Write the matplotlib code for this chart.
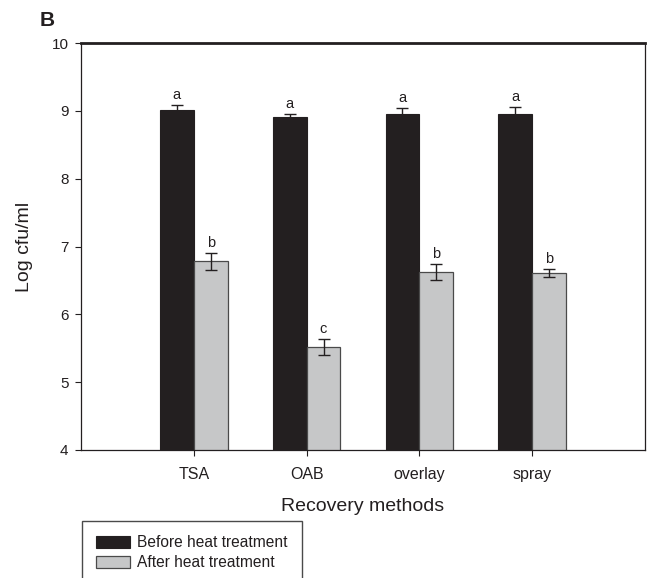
import numpy as np
import matplotlib
matplotlib.use("Agg")
import matplotlib.pyplot as plt

# Log cfu/ml per recovery method, before and after heat treatment
methods = ['TSA', 'OAB', 'overlay', 'spray']
before = [9.02, 8.91, 8.96, 8.96]
before_err = [0.07, 0.04, 0.08, 0.10]
after = [6.78, 5.52, 6.62, 6.61]
after_err = [0.13, 0.12, 0.12, 0.065]
before_letters = ['a', 'a', 'a', 'a']
after_letters = ['b', 'c', 'b', 'b']

plt.rcParams['font.family'] = ['Liberation Sans', 'DejaVu Sans']
txt = '#231f20'
black = '#231f20'
grey = '#c6c7c8'

fig = plt.figure(figsize=(6.5, 5.78), dpi=100)
ax = fig.add_axes([0.1246, 0.2215, 0.8677, 0.704])

x_pos = np.arange(1, len(methods) + 1)
w = 0.3
ax.bar(x_pos - w / 2, before, w, color=black, edgecolor=black, linewidth=0.8,
       label='Before heat treatment', zorder=2)
ax.bar(x_pos + w / 2, after, w, color=grey, edgecolor='#4a4a4a', linewidth=0.9,
       label='After heat treatment', zorder=2)
ax.errorbar(x_pos - w / 2, before, yerr=before_err, fmt='none', ecolor=txt,
            elinewidth=1, capsize=4.5, capthick=1, zorder=3)
ax.errorbar(x_pos + w / 2, after, yerr=after_err, fmt='none', ecolor=txt,
            elinewidth=1, capsize=4.5, capthick=1, zorder=3)

# significance letters above the error bars
for xi, v, e, s in zip(x_pos - w / 2, before, before_err, before_letters):
    ax.annotate(s, (xi, v + e), xytext=(0, 2), textcoords='offset points',
                ha='center', va='bottom', fontsize=10.5, color=txt)
for xi, v, e, s in zip(x_pos + w / 2, after, after_err, after_letters):
    ax.annotate(s, (xi, v + e), xytext=(0, 2), textcoords='offset points',
                ha='center', va='bottom', fontsize=10.5, color=txt)

ax.set_xlim(0, 5)
ax.set_ylim(4, 10)
ax.set_xticks(x_pos)
ax.set_xticklabels(methods)
ax.set_yticks(np.arange(4, 11, 1))
ax.tick_params(axis='y', direction='out', length=4, width=0.8, pad=5,
               labelsize=11, colors=txt)
ax.tick_params(axis='x', direction='out', length=4, width=0.8, pad=8,
               labelsize=11.5, colors=txt)

for side in ['left', 'bottom', 'right']:
    ax.spines[side].set_linewidth(0.9)
    ax.spines[side].set_color(txt)
ax.spines['top'].set_linewidth(2)
ax.spines['top'].set_color(txt)

ax.set_ylabel('Log cfu/ml', fontsize=14, color=txt)
ax.yaxis.set_label_coords(-0.085, 0.5)
ax.set_xlabel('Recovery methods', fontsize=14, color=txt)
ax.xaxis.label.set_va('center')
ax.xaxis.set_label_coords(0.5, -0.14)

leg = ax.legend(loc='upper left', bbox_to_anchor=(0.126, 0.0986),
                bbox_transform=fig.transFigure, borderaxespad=0,
                fontsize=11.2, handlelength=2.2, handleheight=0.8,
                handletextpad=0.45, borderpad=0.9, labelspacing=0.35,
                fancybox=False, framealpha=1, labelcolor=txt)
leg.get_frame().set_edgecolor('#4a4a4a')
leg.get_frame().set_linewidth(1)

fig.text(0.0615, 0.9637, 'B', fontsize=15, fontweight='bold', color=txt,
         ha='left', va='center')

plt.savefig('out.png', dpi=100)
